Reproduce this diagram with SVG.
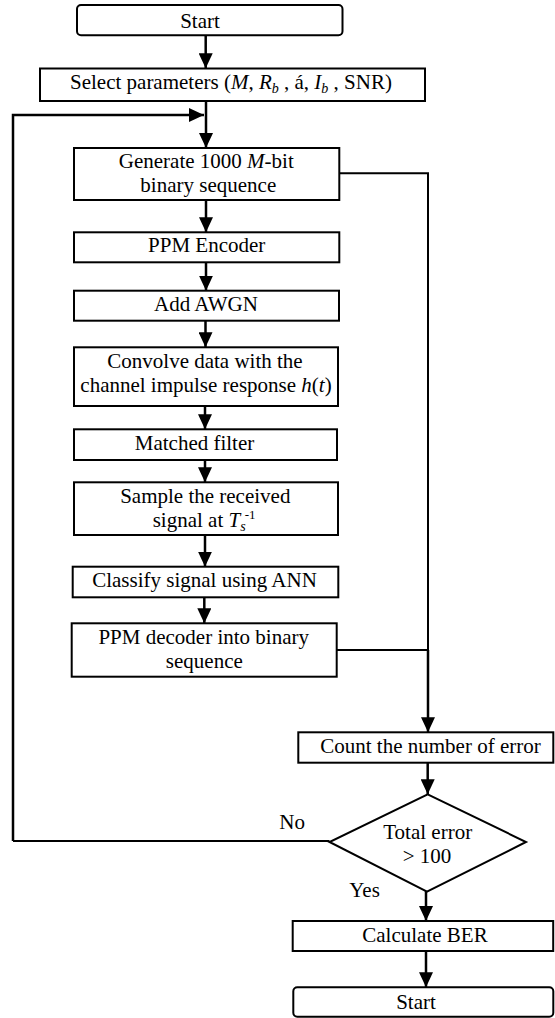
<svg xmlns="http://www.w3.org/2000/svg" width="555" height="1018" viewBox="0 0 555 1018">
<style>
.box{fill:#fff;stroke:#000;stroke-width:2}
.t{font-family:"Liberation Serif","Times New Roman",serif;font-size:21px;fill:#000;text-anchor:middle}
.tl{font-family:"Liberation Serif","Times New Roman",serif;font-size:21px;fill:#000}
.i{font-style:italic}
.c{fill:none;stroke:#000;stroke-width:2.5}
.c2{fill:none;stroke:#000;stroke-width:2}
</style>
<defs>
<marker id="ah" markerUnits="userSpaceOnUse" markerWidth="15" markerHeight="14" refX="15" refY="7" orient="auto">
<path d="M0,0 L15,7 L0,14 z" fill="#000"/>
</marker>
</defs>
<rect width="555" height="1018" fill="#fff"/>
<g id="connectors">
<line class="c" x1="205.7" y1="35.3" x2="205.7" y2="68.3" marker-end="url(#ah)"/>
<line class="c" x1="206" y1="101" x2="206" y2="148" marker-end="url(#ah)"/>
<polyline class="c" points="13,841 13,115 204,115" marker-end="url(#ah)"/>
<line class="c2" x1="13" y1="841" x2="329.5" y2="841"/>
<line class="c" x1="206" y1="200" x2="206" y2="232.3" marker-end="url(#ah)"/>
<line class="c" x1="206" y1="262.3" x2="206" y2="290.7" marker-end="url(#ah)"/>
<line class="c" x1="205.5" y1="320.7" x2="205.5" y2="347.3" marker-end="url(#ah)"/>
<line class="c" x1="205" y1="406" x2="205" y2="429.3" marker-end="url(#ah)"/>
<line class="c" x1="205" y1="460" x2="205" y2="482.3" marker-end="url(#ah)"/>
<line class="c" x1="205" y1="535" x2="205" y2="566.7" marker-end="url(#ah)"/>
<line class="c" x1="204.3" y1="597.3" x2="204.3" y2="623.3" marker-end="url(#ah)"/>
<polyline class="c2" points="339.3,173.3 428,173.3 428,650"/>
<line class="c2" x1="336.7" y1="650" x2="428" y2="650"/>
<line class="c" x1="428" y1="650" x2="428" y2="732.3" marker-end="url(#ah)"/>
<line class="c" x1="427.7" y1="762.7" x2="427.7" y2="794.3" marker-end="url(#ah)"/>
<line class="c" x1="426" y1="886" x2="426" y2="921" marker-end="url(#ah)"/>
<line class="c" x1="426" y1="951" x2="426" y2="987.3" marker-end="url(#ah)"/>
</g>
<g id="n-start">
<rect class="box" x="77" y="5" width="265.5" height="30.3" rx="4"/>
<text class="t" x="200" y="28.3">Start</text>
</g>
<g id="n-select">
<rect class="box" x="40" y="68.5" width="385" height="32.5"/>
<text class="tl" x="70" y="89.3">Select parameters (<tspan class="i">M</tspan>, <tspan class="i">R</tspan><tspan class="i" font-size="14" dy="4">b</tspan><tspan dy="-4"> , á, </tspan><tspan class="i">I</tspan><tspan class="i" font-size="14" dy="4">b</tspan><tspan dy="-4"> , SNR)</tspan></text>
</g>
<g id="n-generate">
<rect class="box" x="74" y="148" width="265.3" height="52"/>
<text class="t" x="206.3" y="168.3">Generate 1000 <tspan class="i">M</tspan>-bit</text>
<text class="t" x="208.3" y="191.7">binary sequence</text>
</g>
<g id="n-ppmenc">
<rect class="box" x="74" y="232.3" width="265.3" height="30"/>
<text class="t" x="206.7" y="252.3">PPM Encoder</text>
</g>
<g id="n-awgn">
<rect class="box" x="74" y="290.7" width="265" height="30"/>
<text class="t" x="206" y="310.7">Add AWGN</text>
</g>
<g id="n-convolve">
<rect class="box" x="74" y="347.3" width="264" height="58.7"/>
<text class="t" x="205" y="368.3">Convolve data with the</text>
<text class="t" x="206" y="391.7">channel impulse response <tspan class="i">h</tspan>(<tspan class="i">t</tspan>)</text>
</g>
<g id="n-matched">
<rect class="box" x="74" y="429.3" width="263" height="30.7"/>
<text class="t" x="194.5" y="450">Matched filter</text>
</g>
<g id="n-sample">
<rect class="box" x="74" y="482.3" width="264" height="52.7"/>
<text class="t" x="205.3" y="503.3">Sample the received</text>
<text class="tl" x="152.7" y="526.7">signal at <tspan class="i">T</tspan><tspan class="i" font-size="14" dy="4">s</tspan><tspan font-size="13" dx="-1" dy="-12">-1</tspan></text>
</g>
<g id="n-classify">
<rect class="box" x="72.7" y="566.7" width="265.6" height="30.6"/>
<text class="t" x="204.5" y="586.7">Classify signal using ANN</text>
</g>
<g id="n-decoder">
<rect class="box" x="71.7" y="623.3" width="265" height="53.4"/>
<text class="t" x="203.7" y="644">PPM decoder into binary</text>
<text class="t" x="204.3" y="668.3">sequence</text>
</g>
<g id="n-count">
<rect class="box" x="298.3" y="732.3" width="255" height="30.4"/>
<text class="t" x="430.5" y="752.7">Count the number of error</text>
</g>
<g id="n-decision">
<polygon class="box" points="427.7,794.3 526,842 427,891.7 329.5,842"/>
<text class="t" x="427.7" y="839.3">Total error</text>
<text class="t" x="427" y="863.3">&gt; 100</text>
</g>
<g id="labels">
<text class="tl" x="279.3" y="829">No</text>
<text class="tl" x="349.3" y="897.3">Yes</text>
</g>
<g id="n-calc">
<rect class="box" x="292.7" y="921" width="260.5" height="30"/>
<text class="t" x="425" y="941.7">Calculate BER</text>
</g>
<g id="n-end">
<rect class="box" x="293.3" y="987.3" width="260" height="29.4" rx="4"/>
<text class="t" x="416" y="1009.3">Start</text>
</g>
</svg>
